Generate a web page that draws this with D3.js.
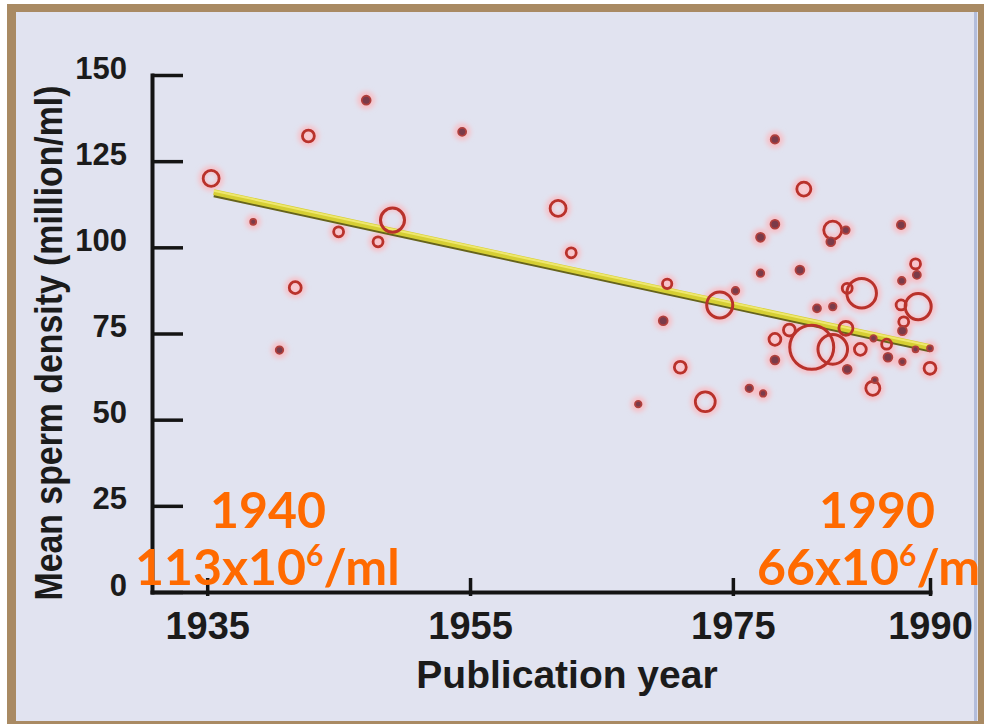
<!DOCTYPE html>
<html>
<head>
<meta charset="utf-8">
<script src="https://cdn.jsdelivr.net/npm/d3@7"></script>
<style>
  body { margin: 0; background: #fff; }
  svg { display: block; }
</style>
</head>
<body>
<div id="chart"></div>
<script>
// study points: publication year, mean density, study size
let years = [
    1935.3, 1938.5, 1942.7, 1947.1, 1941.7, 1940.5, 1945.0, 1948.0, 1949.1, 1954.4, 1961.7, 1962.7,
    1970.0, 1974.0, 1975.2, 1969.7, 1971.0, 1967.8, 1972.9, 1976.25, 1977.3,
    1977.1, 1980.1, 1983.7, 1984.8, 1987.85, 1988.9, 1989.0, 1989.1, 1987.8, 1988.0, 1987.9,
    1981.4, 1982.6, 1979.3, 1978.2, 1981.0, 1982.6, 1983.6, 1984.7, 1986.7, 1985.7, 1986.8,
    1987.9, 1990.0, 1988.9, 1990.0, 1978.2, 1983.7, 1985.65, 1985.8,
    1978.2, 1980.4, 1978.2, 1977.1, 1982.6, 1982.45, 1983.6, 1987.8
];
let density = [
    120.0, 107.4, 132.3, 142.7, 88.3, 70.2, 104.5, 101.6, 107.9, 133.5, 111.3, 98.4,
    89.4, 83.3, 87.4, 78.7, 65.2, 54.5, 55.2, 59.1, 57.6,
    92.5, 93.4, 88.1, 86.7, 90.3, 95.2, 92.0, 82.8, 83.3, 78.4, 75.8,
    82.3, 82.8, 76.0, 73.3, 71.0, 70.4, 76.5, 70.4, 71.9, 73.6, 68.1,
    66.8, 64.9, 70.4, 70.7, 67.3, 64.6, 59.1, 61.5,
    131.3, 116.9, 106.7, 102.9, 105.0, 101.6, 105.0, 106.5
];
let sampleSize = [
    180, 25, 100, 55, 100, 40, 70, 70, 410, 45, 180, 70,
    62, 480, 40, 55, 100, 30, 280, 40, 30,
    40, 55, 70, 620, 40, 70, 45, 480, 70, 70, 55,
    45, 40, 100, 100, 1370, 620, 140, 100, 70, 30, 55,
    30, 100, 25, 25, 55, 55, 140, 25,
    50, 140, 55, 55, 230, 55, 40, 50
];

// fitted trend
let trendYears = [1935.5, 1990];
let trendDensity = [116, 71];

let xTicks = [1935, 1955, 1975, 1990];
let yTicks = [0, 25, 50, 75, 100, 125, 150];

let svgWidth = 984;
let svgHeight = 724;

let svg = d3.select("#chart")
    .append("svg")
    .attr("width", svgWidth)
    .attr("height", svgHeight);

let defs = svg.append("defs");
defs.append("filter").attr("id", "glow")
    .attr("x", "-50%").attr("y", "-50%").attr("width", "200%").attr("height", "200%")
    .append("feGaussianBlur").attr("stdDeviation", 2.5);
defs.append("filter").attr("id", "soft")
    .append("feGaussianBlur").attr("stdDeviation", 0.5);

// frame
svg.append("rect").attr("x", 7).attr("y", 4).attr("width", 977).attr("height", 720).attr("fill", "#a98a63");
svg.append("rect").attr("x", 16).attr("y", 12).attr("width", 962).attr("height", 709).attr("fill", "#e1e3f0");
svg.append("rect").attr("x", 974).attr("y", 12).attr("width", 3).attr("height", 709).attr("fill", "#b3bddb");

let xScale = d3.scaleLinear().domain([1930.8, 1990]).range([152, 930]);
let yScale = d3.scaleLinear().domain([0, 150]).range([592, 75]);
let rScale = d3.scaleSqrt().domain([0, 1500]).range([0, 23]);

let points = years.map((yr, i) => ({ year: yr, value: density[i], n: sampleSize[i] }));
points.sort((a, b) => b.n - a.n);

// pink halos under the markers
svg.append("g").attr("filter", "url(#glow)")
    .selectAll("circle")
    .data(points)
    .enter()
    .append("circle")
    .attr("cx", d => xScale(d.year))
    .attr("cy", d => yScale(d.value))
    .attr("r", d => rScale(d.n) + 1)
    .attr("fill", d => d.n < 150 ? "#f8d2d8" : "none")
    .attr("stroke", "#f7bfc6")
    .attr("stroke-width", 7);

// trend line: dark underside, yellow body, light top edge
let trend = trendYears.map((yr, i) => [yr, trendDensity[i]]);
let line = d3.line().x(d => xScale(d[0])).y(d => yScale(d[1]));

svg.append("path").datum(trend)
    .attr("d", line)
    .attr("transform", "translate(0,3.5)")
    .attr("fill", "none").attr("stroke", "#66641c").attr("stroke-width", 3)
    .attr("filter", "url(#soft)");
svg.append("path").datum(trend)
    .attr("d", line)
    .attr("fill", "none").attr("stroke", "#d6cf34").attr("stroke-width", 6);
svg.append("path").datum(trend)
    .attr("d", line)
    .attr("transform", "translate(0,-1.5)")
    .attr("fill", "none").attr("stroke", "#efe86e").attr("stroke-width", 2);

// markers
let marks = svg.append("g").attr("filter", "url(#soft)");
marks.selectAll("circle")
    .data(points)
    .enter()
    .append("circle")
    .attr("cx", d => xScale(d.year))
    .attr("cy", d => yScale(d.value))
    .attr("r", d => rScale(d.n))
    .attr("fill", d => d.n < 60 ? "#7a3a4a" : "none")
    .attr("stroke", d => d.n < 60 ? "#b0403c" : "#b9302b")
    .attr("stroke-width", d => d.n < 60 ? 1.8 : (d.n > 300 ? 3 : 2.8));

// axes
let axisFont = "'Liberation Sans', Arial, Helvetica, sans-serif";

let yAxis = svg.append("g")
    .attr("transform", "translate(152,0)")
    .call(d3.axisLeft(yScale).tickValues(yTicks).tickSize(-31).tickSizeOuter(0).tickPadding(25));

let xAxis = svg.append("g")
    .attr("transform", "translate(0,592)")
    .call(d3.axisBottom(xScale).tickValues(xTicks).tickFormat(d3.format("d"))
        .tickSize(-14).tickSizeOuter(0).tickPadding(20));

[yAxis, xAxis].forEach(g => {
    g.select(".domain").attr("stroke", "#141414").attr("stroke-width", 4).attr("stroke-linecap", "square");
    g.selectAll(".tick line").attr("stroke", "#141414").attr("stroke-width", 3.5);
    g.selectAll(".tick text")
        .attr("fill", "#1b1b1b")
        .style("font-family", axisFont)
        .style("font-weight", "bold");
});
yAxis.selectAll(".tick text").style("font-size", "31px").attr("dy", "0.1em");
xAxis.selectAll(".tick text").style("font-size", "38px");
xAxis.selectAll(".tick line").attr("y1", 4);

svg.append("text")
    .attr("transform", "translate(62,343) rotate(-90)")
    .attr("text-anchor", "middle")
    .attr("textLength", 515)
    .attr("lengthAdjust", "spacingAndGlyphs")
    .attr("fill", "#1b1b1b")
    .style("font-family", axisFont)
    .style("font-weight", "bold")
    .style("font-size", "38px")
    .text("Mean sperm density (million/ml)");

svg.append("text")
    .attr("x", 567)
    .attr("y", 688)
    .attr("text-anchor", "middle")
    .attr("fill", "#1b1b1b")
    .style("font-family", axisFont)
    .style("font-weight", "bold")
    .style("font-size", "39px")
    .text("Publication year");

// orange notes (the right one is cut by the frame edge in the picture)
let noteFont = "'Comic Sans MS', Lato, 'Open Sans', sans-serif";
let notes = [
    { year: "1940", value: "113x10", unit: "/ml", cx: 268, sx: 135 },
    { year: "1990", value: "66x10", unit: "/m", cx: 877, sx: 757 }
];
notes.forEach(n => {
    svg.append("text")
        .attr("x", n.cx).attr("y", 528)
        .attr("text-anchor", "middle")
        .attr("fill", "#ff6a00")
        .style("font-family", noteFont).style("font-weight", "bold").style("font-size", "50px")
        .text(n.year);
    let t = svg.append("text")
        .attr("x", n.sx).attr("y", 585)
        .attr("fill", "#ff6a00")
        .style("font-family", noteFont).style("font-weight", "bold").style("font-size", "50px");
    t.append("tspan").text(n.value);
    t.append("tspan").attr("dy", -19).style("font-size", "30px").text("6");
    t.append("tspan").attr("dy", 19).text(n.unit);
});
</script>
</body>
</html>
